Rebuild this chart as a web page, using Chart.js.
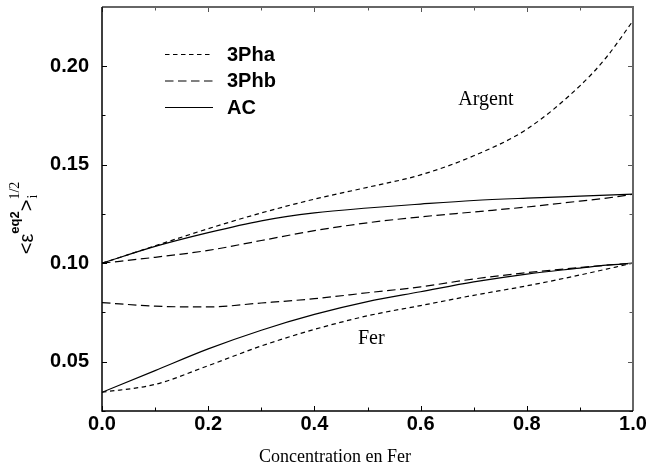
<!DOCTYPE html>
<html><head><meta charset="utf-8">
<script src="https://cdn.jsdelivr.net/npm/chart.js@4/dist/chart.umd.min.js"></script>
<style>html,body{margin:0;padding:0;background:#fff}canvas{display:block}</style>
</head><body>
<canvas id="c" width="650" height="473"></canvas>
<script>
// ---- data ----
const concentration = [0, 0.1, 0.2, 0.3, 0.4, 0.5, 0.6, 0.7, 0.8, 0.9, 0.95, 1.0];
const pha_argent = [0.100, 0.1088, 0.1175, 0.1255, 0.1325, 0.1385, 0.1448, 0.1545, 0.168, 0.190, 0.2045, 0.223];
const phb_argent = [0.100, 0.103, 0.1065, 0.1115, 0.1165, 0.1205, 0.1235, 0.126, 0.1285, 0.1315, 0.133, 0.135];
const ac_argent  = [0.100, 0.1085, 0.1155, 0.1215, 0.1255, 0.128, 0.130, 0.1318, 0.133, 0.134, 0.1345, 0.135];
const pha_fer = [0.0345, 0.0385, 0.048, 0.058, 0.0664, 0.0733, 0.0785, 0.0837, 0.0885, 0.094, 0.097, 0.100];
const phb_fer = [0.080, 0.0782, 0.0778, 0.0798, 0.082, 0.085, 0.088, 0.092, 0.0952, 0.0978, 0.099, 0.100];
const ac_fer  = [0.0345, 0.0455, 0.0565, 0.066, 0.074, 0.0805, 0.0855, 0.0905, 0.0945, 0.0975, 0.099, 0.100];
const xTickLabels = ['0.0', '0.2', '0.4', '0.6', '0.8', '1.0'];
const yTickLabels = ['0.05', '0.10', '0.15', '0.20'];
const seriesNames = ['3Pha', '3Phb', 'AC'];
const curveLabels = [{text: 'Argent', x: 0.723, y: 0.1827}, {text: 'Fer', x: 0.507, y: 0.0619}];
const xTitle = 'Concentration en Fer';

// ---- styles ----
const dashes = {'3Pha': [4.5, 3.5], '3Phb': [8.5, 4.5], 'AC': []};
const pts = arr => arr.map((v, i) => ({x: concentration[i], y: v}));
function ds(name, arr) {
  return {label: name, data: pts(arr), borderColor: '#000', borderWidth: 1.2,
    borderDash: dashes[name], pointRadius: 0, fill: false, tension: 0,
    cubicInterpolationMode: 'monotone'};
}
const datasets = [
  ds('3Pha', pha_argent), ds('3Phb', phb_argent), ds('AC', ac_argent),
  ds('3Pha', pha_fer), ds('3Phb', phb_fer), ds('AC', ac_fer)
];

const near = (v, s) => Math.abs(v / s - Math.round(v / s)) < 1e-6;

const framePlugin = {
  id: 'frame',
  afterDatasetsDraw(chart) {
    const ctx = chart.ctx, a = chart.chartArea, xs = chart.scales.x, ys = chart.scales.y;
    ctx.save();
    ctx.setLineDash([]);
    ctx.lineWidth = 1;
    xs.ticks.forEach(t => {
      if (!near(t.value, 0.1)) return;
      const major = Math.round(t.value * 10) % 2 === 0;
      const L = major ? 5 : 3.5;
      const p = Math.round(xs.getPixelForValue(t.value)) + 0.5;
      ctx.strokeStyle = '#000';
      ctx.beginPath(); ctx.moveTo(p, a.bottom); ctx.lineTo(p, a.bottom - L); ctx.stroke();
      ctx.strokeStyle = '#555';
      ctx.beginPath(); ctx.moveTo(p, a.top); ctx.lineTo(p, a.top + L); ctx.stroke();
    });
    ys.ticks.forEach(t => {
      if (!near(t.value, 0.025)) return;
      const major = Math.round(t.value / 0.025) % 2 === 0;
      const L = major ? 5 : 3.5;
      const p = Math.round(ys.getPixelForValue(t.value)) + 0.5;
      ctx.strokeStyle = '#000';
      ctx.beginPath(); ctx.moveTo(a.left, p); ctx.lineTo(a.left + L, p); ctx.stroke();
      ctx.strokeStyle = '#555';
      ctx.beginPath(); ctx.moveTo(a.right, p); ctx.lineTo(a.right - L, p); ctx.stroke();
    });
    ctx.lineWidth = 2; ctx.strokeStyle = '#666';
    ctx.beginPath(); ctx.moveTo(a.left, a.top); ctx.lineTo(a.right, a.top); ctx.lineTo(a.right, a.bottom); ctx.stroke();
    ctx.lineWidth = 1.5; ctx.strokeStyle = '#000';
    ctx.beginPath(); ctx.moveTo(a.left, a.top); ctx.lineTo(a.left, a.bottom); ctx.lineTo(a.right, a.bottom); ctx.stroke();

    // legend
    const legY = [54, 80.5, 107];
    seriesNames.forEach((n, i) => {
      ctx.setLineDash(dashes[n]); ctx.lineWidth = 1.2; ctx.strokeStyle = '#000';
      ctx.beginPath(); ctx.moveTo(165, legY[i] + 0.5); ctx.lineTo(213, legY[i] + 0.5); ctx.stroke();
      ctx.setLineDash([]);
      ctx.fillStyle = '#000'; ctx.font = 'bold 20px "Liberation Sans", Arial, sans-serif';
      ctx.textAlign = 'left'; ctx.textBaseline = 'middle';
      ctx.fillText(n, 227, legY[i] + 1);
    });
    // curve labels
    ctx.font = '20px "Liberation Serif", "Times New Roman", serif';
    ctx.textAlign = 'center'; ctx.textBaseline = 'middle';
    curveLabels.forEach(c => ctx.fillText(c.text, xs.getPixelForValue(c.x), ys.getPixelForValue(c.y)));
    // x title
    ctx.font = '18px "Liberation Serif", "Times New Roman", serif';
    ctx.fillText(xTitle, 335, 457);

    // y title
    ctx.translate(33, 218);
    ctx.rotate(-Math.PI / 2);
    ctx.textAlign = 'left'; ctx.textBaseline = 'alphabetic';
    const fMain = '20px "Liberation Sans", Arial, sans-serif';
    const fSup = 'bold 13px "Liberation Sans", Arial, sans-serif';
    const fSer = '14px "Liberation Serif", "Times New Roman", serif';
    const parts = [
      {t: '<ε', f: fMain, dy: 0},
      {t: 'eq2', f: fSup, dy: -14},
      {t: '>', f: fMain, dy: 0}
    ];
    let total = 0;
    parts.forEach(p => { ctx.font = p.f; p.w = ctx.measureText(p.t).width; total += p.w; });
    ctx.font = fSer; const wFrac = ctx.measureText('1/2').width;
    total += wFrac;
    let x = -total / 2;
    parts.forEach(p => { ctx.font = p.f; ctx.fillText(p.t, x, p.dy); x += p.w; });
    ctx.font = fSer;
    ctx.fillText('i', x + 1, 4);
    ctx.fillText('1/2', x, -14);
    ctx.restore();
  }
};

new Chart(document.getElementById('c'), {
  type: 'line',
  data: {datasets},
  options: {
    responsive: false, animation: false, devicePixelRatio: 1,
    layout: {padding: {top: 7, right: 17, left: 0, bottom: 0}},
    plugins: {legend: {display: false}, tooltip: {enabled: false}},
    scales: {
      x: {
        type: 'linear', min: 0, max: 1,
        grid: {display: false, drawTicks: false}, border: {display: false},
        afterFit: s => { s.height = 62; s.paddingLeft = 0; s.paddingRight = 0; },
        ticks: {
          stepSize: 0.1, autoSkip: false, maxRotation: 0, padding: 1, color: '#000',
          font: {family: '"Liberation Sans", Arial, sans-serif', size: 20, weight: 'bold'},
          callback: v => { const i = Math.round(v * 10); return (near(v, 0.1) && i % 2 === 0) ? xTickLabels[i / 2] : ''; }
        }
      },
      y: {
        type: 'linear', min: 0.025, max: 0.23,
        grid: {display: false, drawTicks: false}, border: {display: false},
        afterFit: s => { s.width = 102; s.paddingTop = 0; s.paddingBottom = 0; },
        ticks: {
          stepSize: 0.025, autoSkip: false, padding: 13, color: '#000',
          font: {family: '"Liberation Sans", Arial, sans-serif', size: 20, weight: 'bold'},
          callback: v => { const i = Math.round(v / 0.025); return (near(v, 0.025) && i % 2 === 0 && i >= 2) ? yTickLabels[i / 2 - 1] : ''; }
        }
      }
    }
  },
  plugins: [framePlugin]
});
</script>
</body></html>
